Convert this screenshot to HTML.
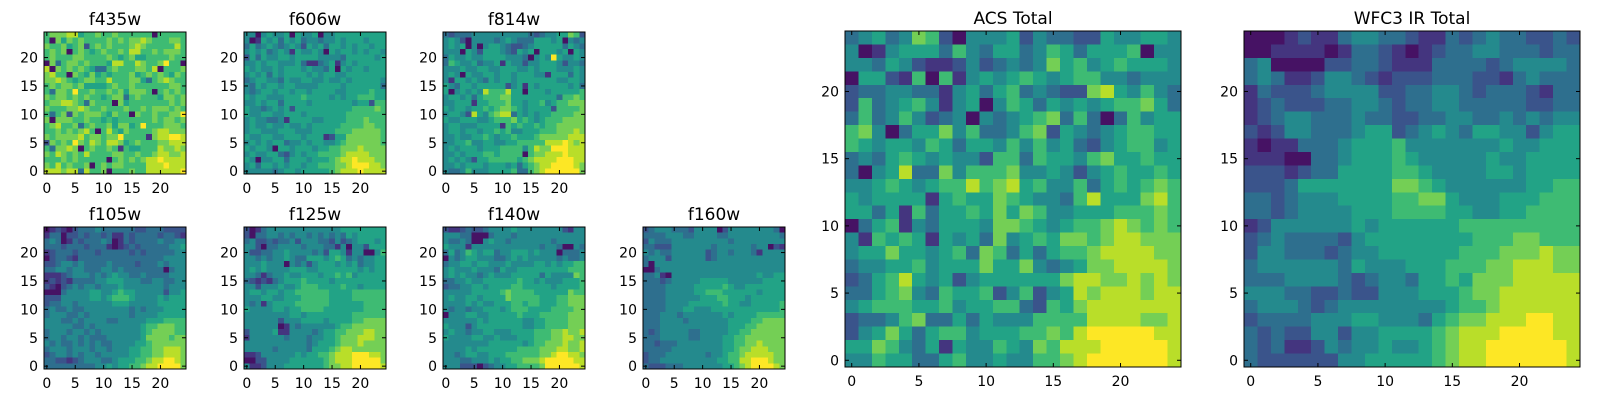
<!DOCTYPE html>
<html><head><meta charset="utf-8">
<style>
html,body{margin:0;padding:0;background:#fff;width:1600px;height:400px;overflow:hidden}
svg{display:block}
text{font-family:"DejaVu Sans","Liberation Sans",sans-serif;fill:#000}
</style></head>
<body>
<svg id="fig" width="1600" height="400" viewBox="0 0 1600 400" xmlns="http://www.w3.org/2000/svg"></svg>
<script>
// Data: each panel is 25 rows (top row = y 24 first), each row 25 values on a 0-9 scale
const titles = ["f435w","f606w","f814w","f105w","f125w","f140w","f160w","ACS Total","WFC3 IR Total"];
const tickValues = [0,5,10,15,20];
const tickLabels = ["0","5","10","15","20"];
const f435w = [
"6777885667667666666066666","6075767666676767787666776","7667567267676667876666686","6767067656766768866767776","6766677666676567556666766",
"0736776766658866876679660","8076767653367666776806667","7866076575656667567676576","7787656776686667753678766","6767767555567667666666776",
"6377696676676757776067676","7677676766567736766657767","6778876376660756666666767","7666778766766676676777676","6367276777657660766766779",
"7077766766565666666767767","6786673676675775696667776","6676767860686576666788777","7677778677677966661788998","2767697687688756766677888",
"6377870676676165566687787","7687676866667766766788778","6667676666606767678898888","7686766706767766668889888","8887883866706667668888889"];
const f606w = [
"4404544505445044555555555","4015453545344344545554555","3534543454254535545455455","4545345415445405455454554","2535445545555444435555545",
"4454554445311345145455555","5454454555454435054554555","4545354555545455445555555","3455443544554454454555554","4354554554444555545555553",
"4345545545545555445555655","5455444555655554545566655","4454553555545555555455266","5443454525555555555666676","5445544555455555556666666",
"4544334155554455556667666","4544544544545555566667766","4554445554445555666777776","5445544555455512557777776","4545455344545544567777776",
"5455405545554556677787777","4544553245455666678888777","5404455355545556788988877","4535545455455666778999887","4444434554555556788898888"];
const f814w = [
"3233344444444443234455762","4542044443454333555450434","4545040455432234555553543","4440542555432545055545054","3544544555544430454954454",
"3654453445154424455542443","4445445544555445455544454","4540544554554555441555354","4155454354554555555544554","5435545555524515455555453",
"5045454866685505554555556","4554535666775555555536676","4455515566675545564566777","5455455656776545555266667","4554285467883545455666677",
"5445554456667565456667777","4554445555165655656677777","4554554556564455566677787","4454455654556555677777888","4455644554455666668889878",
"4545554555666646877999888","4454555665666606778889888","4545425566666567888899988","4454555455545356788999987","4334644455556336789999997"];
const f105w = [
"0121023334333333223332222","1330223233231132333323321","3430132333430132333343344","3332333233310123233333445","1233323332333332323333344",
"0233213333333333333334444","2234434333343333233343444","3344344333443433333330344","1112344434345443343333444","1212133334455544433443344",
"2102343443444544444443444","0003444455445655444442445","2224444455456665444454555","2334434444445554444455555","3433433444444443434445555",
"3444334344444443444455555","4443343444433444445556666","4444433434444444456677766","3444344343444444456777766","3443443433344444457777677",
"4343343434334444556777777","3444344434434445566778887","2344343443444445566778887","3322123444334555667889987","3333333334454556678899997"];
const f125w = [
"2013444444444444455555555","2033443434434343435455555","3422323342444332423455545","4420334444344433140442555","4223344544443425541440046",
"4434344543355545653434455","4445444043424555454534455","4545444455544555555545455","4431344544555455656455555","3212134555655554555555555",
"4424445445666555565545555","4554554556666665555666666","4445544555666665555666666","4341455556666665555556666","5444455455666655555556666",
"4444444455455555555666666","4444442444555545555667777","4444440143444444566777777","2444451144443455667778877","1444444344434455677788877",
"4444444444434555677787777","4444434444435556788777777","1124444445455667888999887","0022444455555567888999997","4112444555555567788999998"];
const f140w = [
"2112322344445444444442144","4443300034443444444444444","4334300454434444444344444","5444144444444444434430043","3534654553445554544403334",
"0434554443345454444434334","3445545544454444554545566","4544454443544555555555666","4545443454445555535444476","3344544555555655454445556",
"2334455455556655555455556","4444455555676666555555766","4544554555576666655566777","4444545445556656655566777","4344344555456665555666677",
"0444554455555655566666777","4444445455555544556666777","5444245555555544556666777","4544344554445555666778778","5444455445444555666778877",
"4444444455555545667778778","4444545555555666677788778","4434554455566666677899887","4443344454556677789999988","4442220234455666679999998"];
const f160w = [
"2344433324444024444444430","3333444334444334444444443","2433344444444443444444444","3322244444443444444344021","4343344444423443444314444",
"3444244444423444444444444","3044444444444444444444444","0034444444444444444444444","3341044444444444444454455","3332344444555554444445555",
"3333444445555565445555555","3333444445566655555545555","3333444444555665554555555","3333444455555565544555556","3333444554445555555555556",
"3334443444444454555566666","3334444344444445555667777","3334444444444445556677777","3234444433444445566777777","3334444433444455667777777",
"3323334444444455667787777","3333344444444455677888777","2333444444434456678888877","2334444444444556688999877","3222333444444455678999987"];
const acsTotal = [
"3453476204445243322544554","4014555364355346535556044","4435421124234347564565554","0552160614545654566443444","2334433145356343227854643",
"2634564145046535454566753","3634642340434567363036455","6740355746334672543456655","6545546535546464532456645","3435654544266365546755655",
"3045833746667445424565565","4456545668678564463565676","5455551565576544368555786","5535163556575764455566676","0356143555477654566787676",
"4165651545374565776788777","4557554563763535667888877","3445564555755743457788887","2356854524555555788778787","3356743655624624587888788",
"4566655645566326578888888","2334673353544466668888778","2457535664555667689999988","5576435154465476888999998","4465533564454466789999998"];
const wfc3Total = [
"0001211344332113234332232","0011110133210123344333233","3400002233211133332344443","3431124432122233322134333","1322234444223344323332133",
"1232223344323344333332233","1234433343322334433434344","2124433345523454355442455","1011333455564444444544555","1110033455565444445445555",
"2221233555566544445545555","2223555555577654444445566","3323444555566775444555666","3323444455566665544556666","1244444454555555666666666",
"2343333245555555566677666","2443332344555555666777877","3444444354445556667788877","3334444323443556577788888","4443322322444555677888888",
"3444323444444445667888888","2333344455444356778889988","3232244244555567888999988","3231124344544567889999998","3222222445555567889999998"];
const panelData = [f435w,f606w,f814w,f105w,f125w,f140w,f160w,acsTotal,wfc3Total];

// Layout (not data)
const layout = [
 {x:44,y:32,s:142},{x:244,y:32,s:142},{x:443,y:32,s:142},
 {x:44,y:227,s:142},{x:244,y:227,s:142},{x:443,y:227,s:142},{x:643,y:227,s:142},
 {x:845,y:31,s:336},{x:1244,y:31,s:336}];

// viridis stops
const VS = [[68,1,84],[72,36,117],[65,68,135],[53,95,141],[42,120,142],[33,145,140],[34,168,132],[68,191,112],[122,209,81],[189,223,38],[253,231,37]];
function color(v){
  let t = Math.max(0, Math.min(1, (v + 0.45) / 9.45));
  const f = t * (VS.length - 1);
  const i = Math.min(VS.length - 2, Math.floor(f));
  const u = f - i;
  const c = VS[i].map((a, k) => Math.round(a + (VS[i+1][k] - a) * u));
  return "rgb(" + c.join(",") + ")";
}

const NS = "http://www.w3.org/2000/svg";
const svg = document.getElementById("fig");
function mk(tag, attrs, parent){
  const e = document.createElementNS(NS, tag);
  for (const k in attrs) e.setAttribute(k, attrs[k]);
  (parent||svg).appendChild(e);
  return e;
}

panelData.forEach((rows, p) => {
  const L = layout[p];
  const n = 25;
  const cs = L.s / n;
  const xScale = c => L.x + c * cs;
  const yScale = r => L.y + L.s - (r + 1) * cs;
  const g = mk("g", {});
  
  
  const heat = mk("g", {"shape-rendering":"crispEdges"}, g);
  
  
  rows.forEach((rowStr, i) => {
    const r = n - 1 - i;
    for (let c = 0; c < n; c++) {
      const v = +rowStr[c];
      const rect = mk("rect", {x:xScale(c).toFixed(2), y:yScale(r).toFixed(2), width:(cs+0.6).toFixed(2), height:(cs+0.6).toFixed(2), fill:color(v)}, heat);
      
      
    }
  });
  const frame = mk("rect", {x:L.x, y:L.y, width:L.s, height:L.s, fill:"none", stroke:"#000", "stroke-width":1}, g);
  
  
  const fs = 14;
  tickValues.forEach((t, k) => {
    const cx = xScale(t) + cs/2;
    const cy = yScale(t) + cs/2;
    const tl = 4;
    mk("line", {x1:cx, y1:L.y+L.s, x2:cx, y2:L.y+L.s-tl, stroke:"#000"}, g);
    mk("line", {x1:cx, y1:L.y, x2:cx, y2:L.y+tl, stroke:"#000"}, g);
    mk("line", {x1:L.x, y1:cy, x2:L.x+tl, y2:cy, stroke:"#000"}, g);
    mk("line", {x1:L.x+L.s, y1:cy, x2:L.x+L.s-tl, y2:cy, stroke:"#000"}, g);
    const xl = mk("text", {x:cx, y:L.y+L.s+19, "font-size":fs, "text-anchor":"middle"}, g);
    xl.textContent = tickLabels[k];
    
    
    const yl = mk("text", {x:L.x-6, y:cy+5, "font-size":fs, "text-anchor":"end"}, g);
    yl.textContent = tickLabels[k];
    
    
  });
  const tt = mk("text", {x:L.x+L.s/2, y:L.y-7, "font-size":17, "text-anchor":"middle"}, g);
  tt.textContent = titles[p];
  
  
});
</script>
</body></html>
